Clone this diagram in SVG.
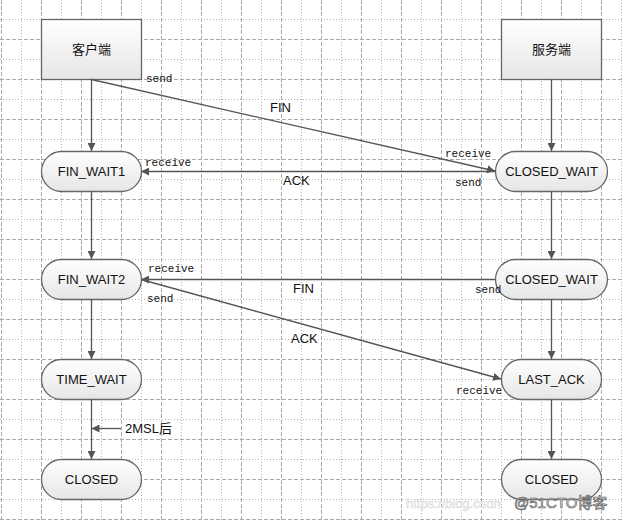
<svg xmlns="http://www.w3.org/2000/svg" width="624" height="520" viewBox="0 0 624 520">
<defs>
<linearGradient id="g" x1="0" y1="0" x2="0" y2="1">
<stop offset="0" stop-color="#ffffff"/>
<stop offset="1" stop-color="#e6e6e6"/>
</linearGradient>
<marker id="a" viewBox="0 0 8 8" refX="8" refY="4" markerWidth="8" markerHeight="8" markerUnits="userSpaceOnUse" orient="auto">
<path d="M0,0 L8,4 L0,8 z" fill="#555"/>
</marker>
</defs>
<style>
.gmaj{stroke:#aaa;stroke-width:1;stroke-dasharray:4 2;fill:none}
.gmin{stroke:#b4b4b4;stroke-width:1;stroke-dasharray:1 2;fill:none}
.node{fill:url(#g);stroke:#666;stroke-width:1.3}
.nl{font-family:"Liberation Sans",Arial,sans-serif;font-size:13px;fill:#111;text-anchor:middle}
.cn{font-family:"Liberation Sans","Noto Sans CJK SC",sans-serif;font-size:13px;fill:#111;text-anchor:middle}
.e{stroke:#555;stroke-width:1.3;fill:none;marker-end:url(#a)}
.m{font-family:"Liberation Mono","Courier New",monospace;font-size:11px;fill:#111}
.s{font-family:"Liberation Sans","Noto Sans CJK SC",sans-serif;font-size:13px;fill:#111}
</style>
<rect width="624" height="520" fill="#fff"/>
<g id="grid">
<path class="gmin" d="M21.5 0V520M61.5 0V520M101.5 0V520M141.5 0V520M181.5 0V520M221.5 0V520M261.5 0V520M301.5 0V520M341.5 0V520M381.5 0V520M421.5 0V520M461.5 0V520M501.5 0V520M541.5 0V520M581.5 0V520M621.5 0V520M0 19.5H624M0 59.5H624M0 99.5H624M0 139.5H624M0 179.5H624M0 219.5H624M0 259.5H624M0 299.5H624M0 339.5H624M0 379.5H624M0 419.5H624M0 459.5H624M0 499.5H624"/>
<path class="gmaj" d="M1.5 0V520M41.5 0V520M81.5 0V520M121.5 0V520M161.5 0V520M201.5 0V520M241.5 0V520M281.5 0V520M321.5 0V520M361.5 0V520M401.5 0V520M441.5 0V520M481.5 0V520M521.5 0V520M561.5 0V520M601.5 0V520M0 39.5H624M0 79.5H624M0 119.5H624M0 159.5H624M0 199.5H624M0 239.5H624M0 279.5H624M0 319.5H624M0 359.5H624M0 399.5H624M0 439.5H624M0 479.5H624M0 519.5H624"/>
</g>
<g id="client">
<rect class="node" x="41.5" y="19.5" width="100" height="60"/>
<text class="cn" x="91.5" y="54">客户端</text>
</g>
<g id="server">
<rect class="node" x="501.5" y="19.5" width="100" height="60"/>
<text class="cn" x="551.5" y="54">服务端</text>
</g>
<g id="fin_wait1">
<rect class="node" x="41.5" y="151.5" width="100" height="40" rx="20"/>
<text class="nl" x="91.5" y="176">FIN_WAIT1</text>
</g>
<g id="closed_wait1">
<rect class="node" x="495.5" y="151.5" width="112" height="40" rx="20"/>
<text class="nl" x="551.5" y="176">CLOSED_WAIT</text>
</g>
<g id="fin_wait2">
<rect class="node" x="41.5" y="259.5" width="100" height="40" rx="20"/>
<text class="nl" x="91.5" y="284">FIN_WAIT2</text>
</g>
<g id="closed_wait2">
<rect class="node" x="495.5" y="259.5" width="112" height="40" rx="20"/>
<text class="nl" x="551.5" y="284">CLOSED_WAIT</text>
</g>
<g id="time_wait">
<rect class="node" x="41.5" y="359.5" width="100" height="40" rx="20"/>
<text class="nl" x="91.5" y="384">TIME_WAIT</text>
</g>
<g id="last_ack">
<rect class="node" x="501.5" y="359.5" width="100" height="40" rx="20"/>
<text class="nl" x="551.5" y="384">LAST_ACK</text>
</g>
<g id="closed_client">
<rect class="node" x="41.5" y="459.5" width="100" height="40" rx="20"/>
<text class="nl" x="91.5" y="484">CLOSED</text>
</g>
<g id="closed_server">
<rect class="node" x="501.5" y="459.5" width="100" height="40" rx="20"/>
<text class="nl" x="551.5" y="484">CLOSED</text>
</g>
<g id="connectors">
<path class="e" d="M91.5 79.5V151"/>
<path class="e" d="M91.5 79.5L495 171"/>
<path class="e" d="M495 171.5H141"/>
<path class="e" d="M91.5 191.5V259"/>
<path class="e" d="M551.5 79.5V151"/>
<path class="e" d="M551.5 191.5V259"/>
<path class="e" d="M495 279.5H141"/>
<path class="e" d="M141 279.5L501 379"/>
<path class="e" d="M91.5 299.5V359"/>
<path class="e" d="M551.5 299.5V359"/>
<path class="e" d="M91.5 399.5V459"/>
<path class="e" d="M551.5 399.5V459"/>
<path class="e" d="M121 428.5H91.5"/>
<text class="m" x="146" y="82">send</text>
<text class="s" x="270" y="112">FIN</text>
<text class="m" x="145" y="166">receive</text>
<text class="s" x="283" y="185">ACK</text>
<text class="m" x="445" y="157">receive</text>
<text class="m" x="455" y="186">send</text>
<text class="m" x="148" y="272">receive</text>
<text class="m" x="147" y="302">send</text>
<text class="s" x="293" y="293">FIN</text>
<text class="s" x="291" y="343">ACK</text>
<text class="m" x="475" y="293">send</text>
<text class="m" x="456" y="394">receive</text>
<text class="s" x="125" y="433">2MSL后</text>
</g>
<g id="watermark">
<text x="406" y="508" font-family="Liberation Sans,sans-serif" font-size="13px" fill="#f2f2f2" stroke="#d8d8d8" stroke-width="0.5">https://blog.csdn</text>
<text x="514" y="508" font-family="Liberation Sans,'Noto Sans CJK SC',sans-serif" font-size="15px" fill="#eee" stroke="#666" stroke-width="0.7">@51CTO博客</text>
</g>
</svg>
